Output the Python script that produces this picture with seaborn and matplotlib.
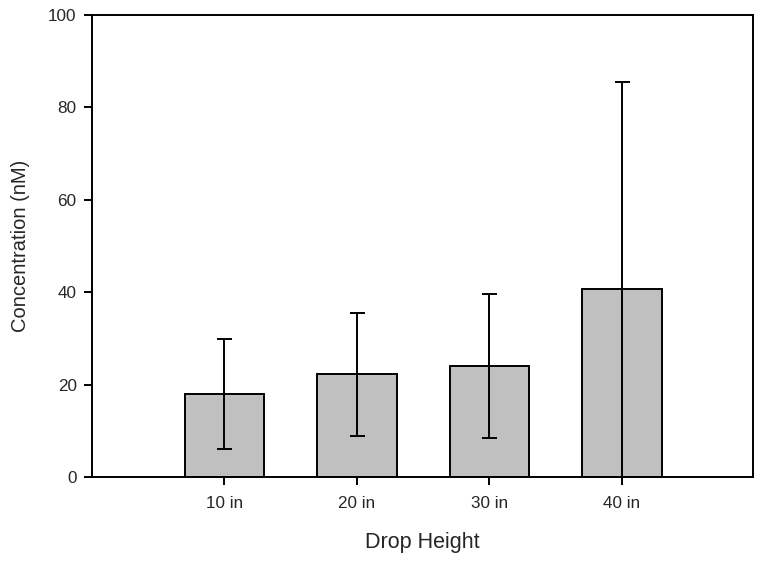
import matplotlib
matplotlib.use("Agg")
import matplotlib.pyplot as plt
import seaborn as sns
import numpy as np
import pandas as pd

categories = ["10 in", "20 in", "30 in", "40 in"]
means = [18.0, 22.2, 24.0, 40.7]
errors = [11.9, 13.3, 15.5, 44.9]
yticks = [0, 20, 40, 60, 80, 100]

sns.set_style("white")
plt.rcParams["font.family"] = ["Liberation Sans", "DejaVu Sans"]

df = pd.DataFrame({"Drop Height": categories, "Concentration": means})

fig = plt.figure(figsize=(7.62, 5.63), dpi=100)
ax = fig.add_axes([0.1207, 0.1528, 0.8675, 0.8206])

sns.barplot(data=df, x="Drop Height", y="Concentration", color="#c0c0c0",
            edgecolor="black", linewidth=1.4, width=0.6, saturation=1,
            errorbar=None, ax=ax)
ax.errorbar(np.arange(len(categories)), means, yerr=errors, fmt="none",
            ecolor="black", elinewidth=1.4, capsize=5.4, capthick=1.4,
            zorder=5)

ax.set_xlim(-1.0, 3.99)
ax.set_ylim(0, 100)
ax.set_yticks(yticks)
ax.set_yticklabels([str(t) for t in yticks])
for s in ax.spines.values():
    s.set_visible(True)
    s.set_color("black")
    s.set_linewidth(1.4)
ax.tick_params(axis="both", direction="out", length=6, width=1.4,
               color="black", labelsize=12.3, labelcolor="#262626",
               left=True, bottom=True)
ax.tick_params(axis="x", pad=8)
ax.tick_params(axis="y", pad=5)
ax.set_ylabel("Concentration (nM)", fontsize=14.5, color="#262626", labelpad=13)
ax.set_xlabel("Drop Height", fontsize=15.5, color="#262626", labelpad=15)

fig.savefig("out.png", dpi=100)
